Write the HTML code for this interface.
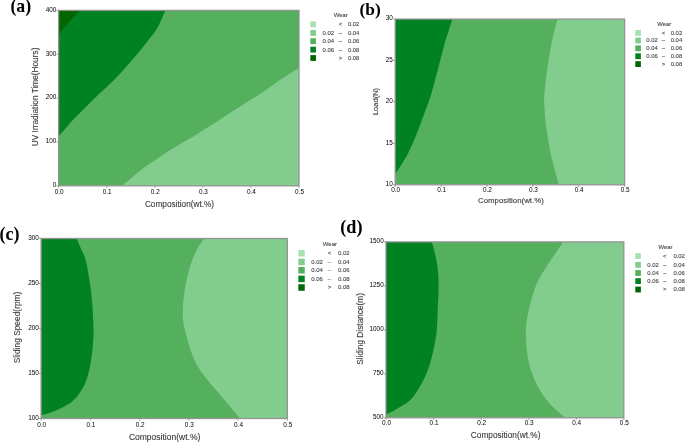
<!DOCTYPE html>
<html><head><meta charset="utf-8"><style>
html,body{margin:0;padding:0;background:#fff;}
svg{display:block;will-change:transform;}
text{font-family:"Liberation Sans", sans-serif;}
text.tt{stroke:#3c3c3c;stroke-width:0.12px;}
text.lg{stroke:#4a4a4a;stroke-width:0.12px;}
text.tk{font-size:6.4px;fill:#000;}
text.pl{font-family:"Liberation Serif", serif;font-weight:bold;font-size:17.5px;fill:#000;}
</style></head><body>
<svg width="685" height="442" viewBox="0 0 685 442">
<rect width="685" height="442" fill="#fff"/>
<clipPath id="clipa"><rect x="58.60" y="10.40" width="240.40" height="175.40"/></clipPath>
<g clip-path="url(#clipa)"><rect x="58.60" y="10.40" width="240.40" height="175.40" fill="#54b05c"/>
<path d="M57.60,9.40 L165.50,9.40 L165.30,10.50 C164.62,12.08 162.73,16.75 161.20,20.00 C159.67,23.25 158.22,26.67 156.10,30.00 C153.98,33.33 151.08,36.67 148.50,40.00 C145.92,43.33 143.33,46.67 140.60,50.00 C137.87,53.33 134.97,56.67 132.10,60.00 C129.23,63.33 126.42,66.67 123.40,70.00 C120.38,73.33 117.33,76.67 114.00,80.00 C110.67,83.33 106.93,86.67 103.40,90.00 C99.87,93.33 96.23,96.67 92.80,100.00 C89.37,103.33 86.12,106.67 82.80,110.00 C79.48,113.33 76.02,116.67 72.90,120.00 C69.78,123.33 66.35,127.43 64.10,130.00 C61.85,132.57 60.50,134.18 59.40,135.40 C58.30,136.62 57.82,136.98 57.50,137.30 L57.60,9.40 Z" fill="#008222"/>
<path d="M57.60,9.40 L80.50,9.40 L80.50,10.20 C79.50,11.22 76.42,14.28 74.50,16.30 C72.58,18.32 70.75,20.30 69.00,22.30 C67.25,24.30 65.58,26.35 64.00,28.30 C62.42,30.25 60.58,32.63 59.50,34.00 C58.42,35.37 57.83,36.08 57.50,36.50 L57.60,9.40 Z" fill="#006600"/>
<path d="M121.30,186.80  L121.30,186.00 C122.33,185.20 125.42,182.87 127.50,181.20 C129.58,179.53 131.68,177.77 133.80,176.00 C135.92,174.23 137.83,172.47 140.20,170.60 C142.57,168.73 145.20,166.73 148.00,164.80 C150.80,162.87 154.17,160.87 157.00,159.00 C159.83,157.13 162.50,155.25 165.00,153.60 C167.50,151.95 169.17,150.85 172.00,149.10 C174.83,147.35 178.67,145.07 182.00,143.10 C185.33,141.13 189.00,139.12 192.00,137.30 C195.00,135.48 197.00,134.07 200.00,132.20 C203.00,130.33 205.83,128.77 210.00,126.10 C214.17,123.43 220.00,119.48 225.00,116.20 C230.00,112.92 235.83,109.07 240.00,106.40 C244.17,103.73 246.67,102.28 250.00,100.20 C253.33,98.12 256.67,96.10 260.00,93.90 C263.33,91.70 266.67,89.32 270.00,87.00 C273.33,84.68 276.67,82.25 280.00,80.00 C283.33,77.75 286.67,75.67 290.00,73.50 C293.33,71.33 298.33,68.08 300.00,67.00 L300.00,186.80 Z" fill="#82cd8e"/>
</g>
<rect x="58.60" y="10.40" width="240.40" height="175.40" fill="none" stroke="#939393" stroke-width="1.3"/>
<path d="M56.40,10.40H58.60 M56.40,54.25H58.60 M56.40,98.10H58.60 M56.40,141.95H58.60 M56.40,185.80H58.60 M58.60,185.80V188.00 M106.68,185.80V188.00 M154.76,185.80V188.00 M202.84,185.80V188.00 M250.92,185.80V188.00 M299.00,185.80V188.00" stroke="#939393" stroke-width="0.8" fill="none"/>
<text class="tk" x="56.30" y="11.70" text-anchor="end">400</text>
<text class="tk" x="56.30" y="55.55" text-anchor="end">300</text>
<text class="tk" x="56.30" y="99.40" text-anchor="end">200</text>
<text class="tk" x="56.30" y="143.25" text-anchor="end">100</text>
<text class="tk" x="56.30" y="187.10" text-anchor="end">0</text>
<text class="tk" x="59.10" y="194.00" text-anchor="middle">0.0</text>
<text class="tk" x="107.18" y="194.00" text-anchor="middle">0.1</text>
<text class="tk" x="155.26" y="194.00" text-anchor="middle">0.2</text>
<text class="tk" x="203.34" y="194.00" text-anchor="middle">0.3</text>
<text class="tk" x="251.42" y="194.00" text-anchor="middle">0.4</text>
<text class="tk" x="299.50" y="194.00" text-anchor="middle">0.5</text>
<text class="tt" transform="translate(37.80,96.90) rotate(-90)" text-anchor="middle" font-size="8.20" fill="#3c3c3c" textLength="98.60" lengthAdjust="spacingAndGlyphs">UV Irradiation Time(Hours)</text>
<text class="tt" x="179.50" y="206.60" text-anchor="middle" font-size="8.20" fill="#3c3c3c" textLength="69.20" lengthAdjust="spacingAndGlyphs">Composition(wt.%)</text>
<clipPath id="clipb"><rect x="395.20" y="19.10" width="229.40" height="165.70"/></clipPath>
<g clip-path="url(#clipb)"><rect x="395.20" y="19.10" width="229.40" height="165.70" fill="#54b05c"/>
<path d="M394.20,18.10 L452.30,18.10 L452.30,19.50 C451.63,21.58 449.62,27.83 448.30,32.00 C446.98,36.17 446.22,37.97 444.40,44.50 C442.58,51.03 439.70,62.62 437.40,71.20 C435.10,79.78 432.83,88.82 430.60,96.00 C428.37,103.18 426.37,107.87 424.00,114.30 C421.63,120.73 419.02,128.15 416.40,134.60 C413.78,141.05 410.85,147.93 408.30,153.00 C405.75,158.07 403.18,161.62 401.10,165.00 C399.02,168.38 396.98,171.47 395.80,173.30 C394.62,175.13 394.30,175.55 394.00,176.00 L394.20,18.10 Z" fill="#008222"/>
<path d="M557.50,18.10  L557.50,19.50 C556.92,21.63 555.10,27.80 554.00,32.30 C552.90,36.80 551.92,41.08 550.90,46.50 C549.88,51.92 548.77,59.03 547.90,64.80 C547.03,70.57 546.32,75.67 545.70,81.10 C545.08,86.53 544.42,93.22 544.20,97.40 C543.98,101.58 544.12,101.68 544.40,106.20 C544.68,110.72 545.25,118.75 545.90,124.50 C546.55,130.25 547.22,134.60 548.30,140.70 C549.38,146.80 550.70,153.97 552.40,161.10 C554.10,168.23 557.40,179.38 558.50,183.50 C559.60,187.62 558.92,185.42 559.00,185.80 L625.60,185.80 L625.60,18.10 Z" fill="#82cd8e"/>
</g>
<rect x="395.20" y="19.10" width="229.40" height="165.70" fill="none" stroke="#939393" stroke-width="1.3"/>
<path d="M393.00,19.10H395.20 M393.00,60.53H395.20 M393.00,101.95H395.20 M393.00,143.38H395.20 M393.00,184.80H395.20 M395.20,184.80V187.00 M441.08,184.80V187.00 M486.96,184.80V187.00 M532.84,184.80V187.00 M578.72,184.80V187.00 M624.60,184.80V187.00" stroke="#939393" stroke-width="0.8" fill="none"/>
<text class="tk" x="392.90" y="20.40" text-anchor="end">30</text>
<text class="tk" x="392.90" y="61.83" text-anchor="end">25</text>
<text class="tk" x="392.90" y="103.25" text-anchor="end">20</text>
<text class="tk" x="392.90" y="144.68" text-anchor="end">15</text>
<text class="tk" x="392.90" y="186.10" text-anchor="end">10</text>
<text class="tk" x="395.70" y="192.10" text-anchor="middle">0.0</text>
<text class="tk" x="441.58" y="192.10" text-anchor="middle">0.1</text>
<text class="tk" x="487.46" y="192.10" text-anchor="middle">0.2</text>
<text class="tk" x="533.34" y="192.10" text-anchor="middle">0.3</text>
<text class="tk" x="579.22" y="192.10" text-anchor="middle">0.4</text>
<text class="tk" x="625.10" y="192.10" text-anchor="middle">0.5</text>
<text class="tt" transform="translate(377.90,101.50) rotate(-90)" text-anchor="middle" font-size="8.00" fill="#3c3c3c" textLength="27.20" lengthAdjust="spacingAndGlyphs">Load(N)</text>
<text class="tt" x="510.90" y="203.30" text-anchor="middle" font-size="8.00" fill="#3c3c3c" textLength="65.80" lengthAdjust="spacingAndGlyphs">Composition(wt.%)</text>
<clipPath id="clipc"><rect x="41.10" y="238.50" width="246.20" height="180.00"/></clipPath>
<g clip-path="url(#clipc)"><rect x="41.10" y="238.50" width="246.20" height="180.00" fill="#54b05c"/>
<path d="M40.10,237.50 L76.70,237.50 L76.70,238.80 C77.38,240.38 79.38,245.03 80.80,248.30 C82.22,251.57 84.02,254.67 85.20,258.40 C86.38,262.13 87.02,265.93 87.90,270.70 C88.78,275.47 89.78,281.58 90.50,287.00 C91.22,292.42 91.75,297.70 92.20,303.20 C92.65,308.70 93.00,314.18 93.20,320.00 C93.40,325.82 93.72,331.70 93.40,338.10 C93.08,344.50 92.27,352.00 91.30,358.40 C90.33,364.80 89.22,371.22 87.60,376.50 C85.98,381.78 84.17,385.95 81.60,390.10 C79.03,394.25 76.22,398.12 72.20,401.40 C68.18,404.68 61.37,407.88 57.50,409.80 C53.63,411.72 51.67,412.03 49.00,412.90 C46.33,413.77 43.00,414.58 41.50,415.00 C40.00,415.42 40.25,415.33 40.00,415.40 L40.10,237.50 Z" fill="#008222"/>
<path d="M203.80,237.50  L203.80,238.80 C202.77,240.38 199.57,244.68 197.60,248.30 C195.63,251.92 193.63,256.10 192.00,260.50 C190.37,264.90 189.03,269.62 187.80,274.70 C186.57,279.78 185.42,285.57 184.60,291.00 C183.78,296.43 183.15,302.47 182.90,307.30 C182.65,312.13 182.62,315.62 183.10,320.00 C183.58,324.38 184.58,328.70 185.80,333.60 C187.02,338.50 188.52,344.13 190.40,349.40 C192.28,354.67 194.10,359.92 197.10,365.20 C200.10,370.48 204.25,375.82 208.40,381.10 C212.55,386.38 217.32,391.38 222.00,396.90 C226.68,402.42 233.42,410.60 236.50,414.20 C239.58,417.80 239.58,417.62 240.50,418.50 C241.42,419.38 241.75,419.33 242.00,419.50 L288.30,419.50 L288.30,237.50 Z" fill="#82cd8e"/>
</g>
<rect x="41.10" y="238.50" width="246.20" height="180.00" fill="none" stroke="#939393" stroke-width="1.3"/>
<path d="M38.90,238.50H41.10 M38.90,283.50H41.10 M38.90,328.50H41.10 M38.90,373.50H41.10 M38.90,418.50H41.10 M41.10,418.50V420.70 M90.34,418.50V420.70 M139.58,418.50V420.70 M188.82,418.50V420.70 M238.06,418.50V420.70 M287.30,418.50V420.70" stroke="#939393" stroke-width="0.8" fill="none"/>
<text class="tk" x="38.80" y="239.80" text-anchor="end">300</text>
<text class="tk" x="38.80" y="284.80" text-anchor="end">250</text>
<text class="tk" x="38.80" y="329.80" text-anchor="end">200</text>
<text class="tk" x="38.80" y="374.80" text-anchor="end">150</text>
<text class="tk" x="38.80" y="419.80" text-anchor="end">100</text>
<text class="tk" x="41.60" y="426.70" text-anchor="middle">0.0</text>
<text class="tk" x="90.84" y="426.70" text-anchor="middle">0.1</text>
<text class="tk" x="140.08" y="426.70" text-anchor="middle">0.2</text>
<text class="tk" x="189.32" y="426.70" text-anchor="middle">0.3</text>
<text class="tk" x="238.56" y="426.70" text-anchor="middle">0.4</text>
<text class="tk" x="287.80" y="426.70" text-anchor="middle">0.5</text>
<text class="tt" transform="translate(19.60,327.50) rotate(-90)" text-anchor="middle" font-size="8.20" fill="#3c3c3c" textLength="71.70" lengthAdjust="spacingAndGlyphs">Sliding Speed(rpm)</text>
<text class="tt" x="164.60" y="439.80" text-anchor="middle" font-size="8.20" fill="#3c3c3c" textLength="71.40" lengthAdjust="spacingAndGlyphs">Composition(wt.%)</text>
<clipPath id="clipd"><rect x="386.00" y="241.90" width="237.80" height="175.90"/></clipPath>
<g clip-path="url(#clipd)"><rect x="386.00" y="241.90" width="237.80" height="175.90" fill="#54b05c"/>
<path d="M385.00,240.90 L431.90,240.90 L431.90,242.30 C432.40,244.13 434.05,249.77 434.90,253.30 C435.75,256.83 436.42,259.43 437.00,263.50 C437.58,267.57 438.15,272.95 438.40,277.70 C438.65,282.45 438.60,286.90 438.50,292.00 C438.40,297.10 438.02,303.30 437.80,308.30 C437.58,313.30 437.48,317.42 437.20,322.00 C436.92,326.58 436.97,330.10 436.10,335.80 C435.23,341.50 433.65,349.78 432.00,356.20 C430.35,362.62 428.57,368.65 426.20,374.30 C423.83,379.95 420.63,385.65 417.80,390.10 C414.97,394.55 412.73,397.85 409.20,401.00 C405.67,404.15 400.40,406.73 396.60,409.00 C392.80,411.27 388.33,413.57 386.40,414.60 C384.47,415.63 385.23,415.10 385.00,415.20 L385.00,240.90 Z" fill="#008222"/>
<path d="M563.00,240.90  L563.00,242.30 C561.75,244.13 558.12,249.43 555.50,253.30 C552.88,257.17 550.13,261.08 547.30,265.50 C544.47,269.92 540.98,274.72 538.50,279.80 C536.02,284.88 534.10,290.58 532.40,296.00 C530.70,301.42 529.32,307.63 528.30,312.30 C527.28,316.97 526.70,320.45 526.30,324.00 C525.90,327.55 525.78,328.98 525.90,333.60 C526.02,338.22 526.18,345.68 527.00,351.70 C527.82,357.72 528.88,363.68 530.80,369.70 C532.72,375.72 535.33,382.13 538.50,387.80 C541.67,393.47 545.70,398.98 549.80,403.70 C553.90,408.42 560.65,413.58 563.10,416.10 C565.55,418.62 564.27,418.35 564.50,418.80 L624.80,418.80 L624.80,240.90 Z" fill="#82cd8e"/>
</g>
<rect x="386.00" y="241.90" width="237.80" height="175.90" fill="none" stroke="#939393" stroke-width="1.3"/>
<path d="M383.80,241.90H386.00 M383.80,285.88H386.00 M383.80,329.85H386.00 M383.80,373.83H386.00 M383.80,417.80H386.00 M386.00,417.80V420.00 M433.56,417.80V420.00 M481.12,417.80V420.00 M528.68,417.80V420.00 M576.24,417.80V420.00 M623.80,417.80V420.00" stroke="#939393" stroke-width="0.8" fill="none"/>
<text class="tk" x="383.70" y="243.20" text-anchor="end">1500</text>
<text class="tk" x="383.70" y="287.18" text-anchor="end">1250</text>
<text class="tk" x="383.70" y="331.15" text-anchor="end">1000</text>
<text class="tk" x="383.70" y="375.13" text-anchor="end">750</text>
<text class="tk" x="383.70" y="419.10" text-anchor="end">500</text>
<text class="tk" x="386.50" y="425.10" text-anchor="middle">0.0</text>
<text class="tk" x="434.06" y="425.10" text-anchor="middle">0.1</text>
<text class="tk" x="481.62" y="425.10" text-anchor="middle">0.2</text>
<text class="tk" x="529.18" y="425.10" text-anchor="middle">0.3</text>
<text class="tk" x="576.74" y="425.10" text-anchor="middle">0.4</text>
<text class="tk" x="624.30" y="425.10" text-anchor="middle">0.5</text>
<text class="tt" transform="translate(362.60,328.90) rotate(-90)" text-anchor="middle" font-size="8.20" fill="#3c3c3c" textLength="71.80" lengthAdjust="spacingAndGlyphs">Sliding Distance(m)</text>
<text class="tt" x="505.60" y="438.30" text-anchor="middle" font-size="8.20" fill="#3c3c3c" textLength="69.60" lengthAdjust="spacingAndGlyphs">Composition(wt.%)</text>
<text class="lg" x="340.80" y="17.20" text-anchor="middle" font-size="5.90" fill="#4a4a4a">Wear</text>
<rect x="310.35" y="21.45" width="5.60" height="5.80" fill="#a6e1b6"/>
<text class="lg" x="340.40" y="26.25" text-anchor="middle" font-size="5.90" fill="#4a4a4a">&lt;</text>
<text class="lg" x="347.90" y="26.25" font-size="5.90" fill="#4a4a4a">0.02</text>
<rect x="310.35" y="30.00" width="5.60" height="5.80" fill="#82cd8e"/>
<text class="lg" x="334.00" y="34.80" text-anchor="end" font-size="5.90" fill="#4a4a4a">0.02</text>
<text class="lg" x="340.40" y="34.80" text-anchor="middle" font-size="5.90" fill="#4a4a4a">–</text>
<text class="lg" x="347.90" y="34.80" font-size="5.90" fill="#4a4a4a">0.04</text>
<rect x="310.35" y="38.25" width="5.60" height="5.80" fill="#54b05c"/>
<text class="lg" x="334.00" y="43.05" text-anchor="end" font-size="5.90" fill="#4a4a4a">0.04</text>
<text class="lg" x="340.40" y="43.05" text-anchor="middle" font-size="5.90" fill="#4a4a4a">–</text>
<text class="lg" x="347.90" y="43.05" font-size="5.90" fill="#4a4a4a">0.06</text>
<rect x="310.35" y="46.70" width="5.60" height="5.80" fill="#008222"/>
<text class="lg" x="334.00" y="51.50" text-anchor="end" font-size="5.90" fill="#4a4a4a">0.06</text>
<text class="lg" x="340.40" y="51.50" text-anchor="middle" font-size="5.90" fill="#4a4a4a">–</text>
<text class="lg" x="347.90" y="51.50" font-size="5.90" fill="#4a4a4a">0.08</text>
<rect x="310.35" y="55.10" width="5.60" height="5.80" fill="#006600"/>
<text class="lg" x="340.40" y="59.90" text-anchor="middle" font-size="5.90" fill="#4a4a4a">&gt;</text>
<text class="lg" x="347.90" y="59.90" font-size="5.90" fill="#4a4a4a">0.08</text>
<text class="lg" x="664.20" y="25.90" text-anchor="middle" font-size="5.90" fill="#4a4a4a">Wear</text>
<rect x="635.30" y="30.00" width="5.60" height="5.80" fill="#a6e1b6"/>
<text class="lg" x="663.50" y="34.80" text-anchor="middle" font-size="5.90" fill="#4a4a4a">&lt;</text>
<text class="lg" x="670.70" y="34.80" font-size="5.90" fill="#4a4a4a">0.02</text>
<rect x="635.30" y="37.60" width="5.60" height="5.80" fill="#82cd8e"/>
<text class="lg" x="657.80" y="42.40" text-anchor="end" font-size="5.90" fill="#4a4a4a">0.02</text>
<text class="lg" x="663.50" y="42.40" text-anchor="middle" font-size="5.90" fill="#4a4a4a">–</text>
<text class="lg" x="670.70" y="42.40" font-size="5.90" fill="#4a4a4a">0.04</text>
<rect x="635.30" y="45.45" width="5.60" height="5.80" fill="#54b05c"/>
<text class="lg" x="657.80" y="50.25" text-anchor="end" font-size="5.90" fill="#4a4a4a">0.04</text>
<text class="lg" x="663.50" y="50.25" text-anchor="middle" font-size="5.90" fill="#4a4a4a">–</text>
<text class="lg" x="670.70" y="50.25" font-size="5.90" fill="#4a4a4a">0.06</text>
<rect x="635.30" y="53.35" width="5.60" height="5.80" fill="#008222"/>
<text class="lg" x="657.80" y="58.15" text-anchor="end" font-size="5.90" fill="#4a4a4a">0.06</text>
<text class="lg" x="663.50" y="58.15" text-anchor="middle" font-size="5.90" fill="#4a4a4a">–</text>
<text class="lg" x="670.70" y="58.15" font-size="5.90" fill="#4a4a4a">0.08</text>
<rect x="635.30" y="61.20" width="5.60" height="5.80" fill="#006600"/>
<text class="lg" x="663.50" y="66.00" text-anchor="middle" font-size="5.90" fill="#4a4a4a">&gt;</text>
<text class="lg" x="670.70" y="66.00" font-size="5.90" fill="#4a4a4a">0.08</text>
<text class="lg" x="329.90" y="246.00" text-anchor="middle" font-size="6.00" fill="#4a4a4a">Wear</text>
<rect x="298.35" y="250.00" width="6.40" height="6.50" fill="#a6e1b6"/>
<text class="lg" x="329.40" y="255.15" text-anchor="middle" font-size="6.00" fill="#4a4a4a">&lt;</text>
<text class="lg" x="337.90" y="255.15" font-size="6.00" fill="#4a4a4a">0.02</text>
<rect x="298.35" y="258.70" width="6.40" height="6.50" fill="#82cd8e"/>
<text class="lg" x="322.90" y="263.85" text-anchor="end" font-size="6.00" fill="#4a4a4a">0.02</text>
<text class="lg" x="329.40" y="263.85" text-anchor="middle" font-size="6.00" fill="#4a4a4a">–</text>
<text class="lg" x="337.90" y="263.85" font-size="6.00" fill="#4a4a4a">0.04</text>
<rect x="298.35" y="267.00" width="6.40" height="6.50" fill="#54b05c"/>
<text class="lg" x="322.90" y="272.15" text-anchor="end" font-size="6.00" fill="#4a4a4a">0.04</text>
<text class="lg" x="329.40" y="272.15" text-anchor="middle" font-size="6.00" fill="#4a4a4a">–</text>
<text class="lg" x="337.90" y="272.15" font-size="6.00" fill="#4a4a4a">0.06</text>
<rect x="298.35" y="275.65" width="6.40" height="6.50" fill="#008222"/>
<text class="lg" x="322.90" y="280.80" text-anchor="end" font-size="6.00" fill="#4a4a4a">0.06</text>
<text class="lg" x="329.40" y="280.80" text-anchor="middle" font-size="6.00" fill="#4a4a4a">–</text>
<text class="lg" x="337.90" y="280.80" font-size="6.00" fill="#4a4a4a">0.08</text>
<rect x="298.35" y="284.25" width="6.40" height="6.50" fill="#006600"/>
<text class="lg" x="329.40" y="289.40" text-anchor="middle" font-size="6.00" fill="#4a4a4a">&gt;</text>
<text class="lg" x="337.90" y="289.40" font-size="6.00" fill="#4a4a4a">0.08</text>
<text class="lg" x="665.50" y="248.60" text-anchor="middle" font-size="5.90" fill="#4a4a4a">Wear</text>
<rect x="635.30" y="253.15" width="5.60" height="5.80" fill="#a6e1b6"/>
<text class="lg" x="664.80" y="257.95" text-anchor="middle" font-size="5.90" fill="#4a4a4a">&lt;</text>
<text class="lg" x="673.40" y="257.95" font-size="5.90" fill="#4a4a4a">0.02</text>
<rect x="635.30" y="261.95" width="5.60" height="5.80" fill="#82cd8e"/>
<text class="lg" x="658.70" y="266.75" text-anchor="end" font-size="5.90" fill="#4a4a4a">0.02</text>
<text class="lg" x="664.80" y="266.75" text-anchor="middle" font-size="5.90" fill="#4a4a4a">–</text>
<text class="lg" x="673.40" y="266.75" font-size="5.90" fill="#4a4a4a">0.04</text>
<rect x="635.30" y="270.10" width="5.60" height="5.80" fill="#54b05c"/>
<text class="lg" x="658.70" y="274.90" text-anchor="end" font-size="5.90" fill="#4a4a4a">0.04</text>
<text class="lg" x="664.80" y="274.90" text-anchor="middle" font-size="5.90" fill="#4a4a4a">–</text>
<text class="lg" x="673.40" y="274.90" font-size="5.90" fill="#4a4a4a">0.06</text>
<rect x="635.30" y="278.20" width="5.60" height="5.80" fill="#008222"/>
<text class="lg" x="658.70" y="283.00" text-anchor="end" font-size="5.90" fill="#4a4a4a">0.06</text>
<text class="lg" x="664.80" y="283.00" text-anchor="middle" font-size="5.90" fill="#4a4a4a">–</text>
<text class="lg" x="673.40" y="283.00" font-size="5.90" fill="#4a4a4a">0.08</text>
<rect x="635.30" y="286.60" width="5.60" height="5.80" fill="#006600"/>
<text class="lg" x="664.80" y="291.40" text-anchor="middle" font-size="5.90" fill="#4a4a4a">&gt;</text>
<text class="lg" x="673.40" y="291.40" font-size="5.90" fill="#4a4a4a">0.08</text>
<text class="pl" x="10.40" y="12.30" style="font-size:17.8px">(a)</text>
<text class="pl" x="359.50" y="14.60" style="font-size:17.4px">(b)</text>
<text class="pl" x="-0.50" y="239.50" style="font-size:18.0px">(c)</text>
<text class="pl" x="340.30" y="232.80" style="font-size:18.2px">(d)</text>
</svg>
</body></html>
